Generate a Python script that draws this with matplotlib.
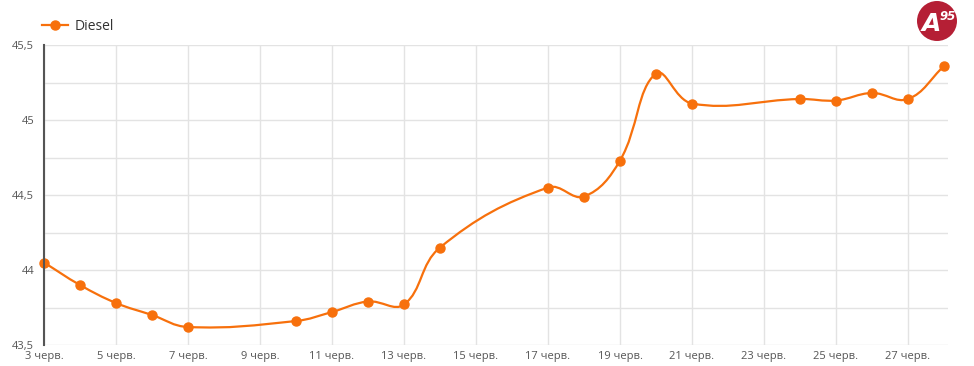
import matplotlib
matplotlib.use('Agg')
import matplotlib.pyplot as plt
from matplotlib.path import Path
from matplotlib.patches import PathPatch, Circle
from matplotlib.lines import Line2D
import numpy as np

# days of June and diesel prices
days = [3, 4, 5, 6, 7, 10, 11, 12, 13, 14, 17, 18, 19, 20, 21, 24, 25, 26, 27, 28]
diesel = [44.05, 43.90, 43.78, 43.70, 43.62, 43.66, 43.72, 43.79, 43.77, 44.15,
          44.55, 44.49, 44.73, 45.31, 45.11, 45.14, 45.13, 45.18, 45.14, 45.36]
xtick_days = list(range(3, 28, 2))
xtick_labels = ['%d черв.' % d for d in xtick_days]
ytick_vals = [43.5, 44, 44.5, 45, 45.5]
ytick_labels = ['43,5', '44', '44,5', '45', '45,5']

ORANGE = '#f7700c'
plt.rcParams['font.family'] = ['Open Sans', 'DejaVu Sans']


def spline_path(xs, ys, sx, sy, t=0.4):
    # chart.js style spline, worked out in pixel units
    px = [x * sx for x in xs]
    py = [y * sy for y in ys]
    n = len(px)
    verts = [(xs[0], ys[0])]
    codes = [Path.MOVETO]
    ctrl = []
    for i in range(n):
        a = max(i - 1, 0)
        b = min(i + 1, n - 1)
        d01 = np.hypot(px[i] - px[a], py[i] - py[a])
        d12 = np.hypot(px[b] - px[i], py[b] - py[i])
        tot = d01 + d12
        s01 = d01 / tot if tot else 0
        s12 = d12 / tot if tot else 0
        fa, fb = t * s01, t * s12
        dx, dy = px[b] - px[a], py[b] - py[a]
        prev_c = ((px[i] - fa * dx) / sx, (py[i] - fa * dy) / sy)
        next_c = ((px[i] + fb * dx) / sx, (py[i] + fb * dy) / sy)
        ctrl.append((prev_c, next_c))
    for i in range(1, n):
        verts += [ctrl[i - 1][1], ctrl[i][0], (xs[i], ys[i])]
        codes += [Path.CURVE4] * 3
    return Path(verts, codes)


fig = plt.figure(figsize=(9.74, 3.66), dpi=100)
ax = fig.add_axes([44 / 974, 21 / 366, 904 / 974, 300 / 366])

ax.set_xlim(3, 28.11)
ax.set_ylim(43.5, 45.5)
ax.set_xticks(xtick_days)
ax.set_xticklabels(xtick_labels)
ax.set_yticks(ytick_vals)
ax.set_yticklabels(ytick_labels)
ax.set_yticks(np.arange(43.75, 45.5, 0.5), minor=True)
ax.tick_params(axis='both', which='both', length=0, labelsize=8, colors='#555555')
ax.tick_params(axis='x', pad=4)
ax.tick_params(axis='y', pad=7)
ax.grid(True, which='both', color='#e3e3e3', linewidth=1)
ax.set_axisbelow(True)
for s in ['top', 'right', 'bottom']:
    ax.spines[s].set_visible(False)
ax.spines['left'].set_color('#555555')
ax.spines['left'].set_linewidth(1.5)
ax.spines['left'].set_zorder(5)

# 36 px per day, 150 px per unit of price
ax.add_patch(PathPatch(spline_path(days, diesel, 36, 150), facecolor='none',
                       edgecolor=ORANGE, linewidth=1.6, zorder=3, clip_on=False))
ax.plot(days, diesel, 'o', color=ORANGE, markersize=6.5, zorder=4, clip_on=False)

# legend
handle = Line2D([], [], color=ORANGE, linewidth=1.6, marker='o', markersize=6.5)
fig.legend([handle], ['Diesel'], loc='center left', bbox_to_anchor=(36 / 974, 1 - 26 / 366),
           frameon=False, fontsize=10, labelcolor='#333333', handlelength=1.9,
           handletextpad=0.45, borderaxespad=0)

# logo
logo = Circle((9.37, 3.66 - 0.21), 0.20, transform=fig.dpi_scale_trans,
              facecolor='#b51f35', edgecolor='none')
fig.patches.append(logo)
fig.text(931 / 974, 1 - 24 / 366, 'A', color='white', fontsize=18, fontweight='bold',
         fontstyle='italic', ha='center', va='center', family=['DejaVu Sans'])
fig.text(940 / 974, 1 - 16 / 366, '95', color='white', fontsize=8.5, fontweight='bold',
         fontstyle='italic', ha='left', va='center', family=['DejaVu Sans'])

fig.savefig('out.png', dpi=100)
